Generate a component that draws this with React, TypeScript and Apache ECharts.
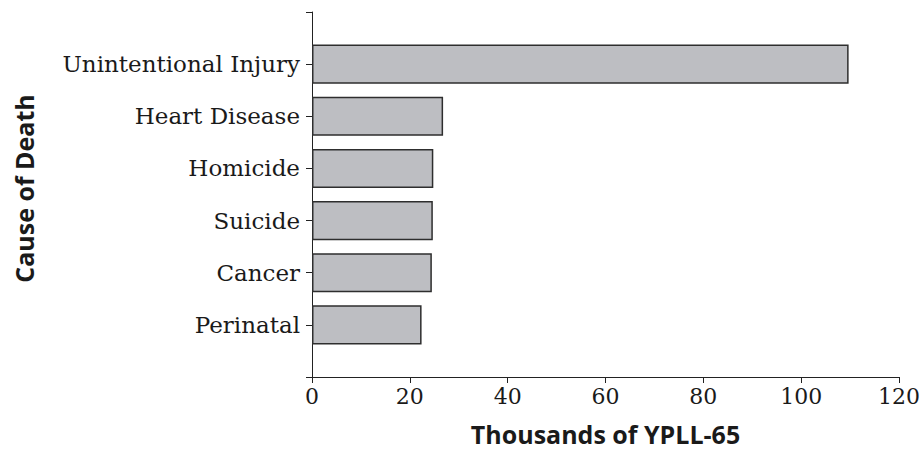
import React, { useEffect, useRef } from "react";
import * as echarts from "echarts";

// bottom-to-top order; empty ends give the end ticks of the axis
const categories = ["", "Perinatal", "Cancer", "Suicide", "Homicide", "Heart Disease", "Unintentional Injury", ""];
const values: (number | null)[] = [null, 22.4, 24.5, 24.7, 24.8, 26.8, 109.7, null];
const xTitle = "Thousands of YPLL-65";
const yTitle = "Cause of Death";

export default function App() {
  const ref = useRef<HTMLDivElement>(null);
  useEffect(() => {
    if (!ref.current) return;
    const chart = echarts.init(ref.current, undefined, { renderer: "svg" });
    const serif = "'DejaVu Serif', serif";
    const sans = "'Open Sans', sans-serif";
    chart.setOption({
      animation: false,
      backgroundColor: "#ffffff",
      grid: { left: 312, right: 21, top: 12, bottom: 83, containLabel: false },
      xAxis: {
        type: "value",
        min: 0,
        max: 120,
        interval: 20,
        name: xTitle,
        nameLocation: "middle",
        nameGap: 44,
        nameTextStyle: { fontFamily: sans, fontWeight: "bold", fontSize: 25, color: "#1a1a1a" },
        axisLine: { show: true, lineStyle: { color: "#222", width: 1 } },
        axisTick: { show: true, length: 6, lineStyle: { color: "#222" } },
        axisLabel: { fontFamily: serif, fontSize: 22, color: "#1a1a1a", margin: 8 },
        splitLine: { show: false },
      },
      yAxis: {
        type: "category",
        data: categories,
        boundaryGap: false,
        name: yTitle,
        nameLocation: "middle",
        nameGap: 276,
        nameRotate: 90,
        nameTextStyle: { fontFamily: sans, fontWeight: "bold", fontSize: 25, color: "#1a1a1a", padding: [0, 0, 0, 12] },
        axisLine: { show: true, lineStyle: { color: "#222", width: 1 } },
        axisTick: { show: true, length: 6, lineStyle: { color: "#222" } },
        axisLabel: { fontFamily: serif, fontSize: 23, color: "#1a1a1a", margin: 12 },
        splitLine: { show: false },
      },
      series: [
        {
          type: "bar",
          data: values,
          barCategoryGap: "25%",
          itemStyle: { color: "#bdbec2", borderColor: "#2e2e2e", borderWidth: 1.5 },
        },
      ],
    });
    return () => chart.dispose();
  }, []);
  return <div ref={ref} style={{ position: "fixed", left: 0, top: 0, width: 923, height: 460 }} />;
}
